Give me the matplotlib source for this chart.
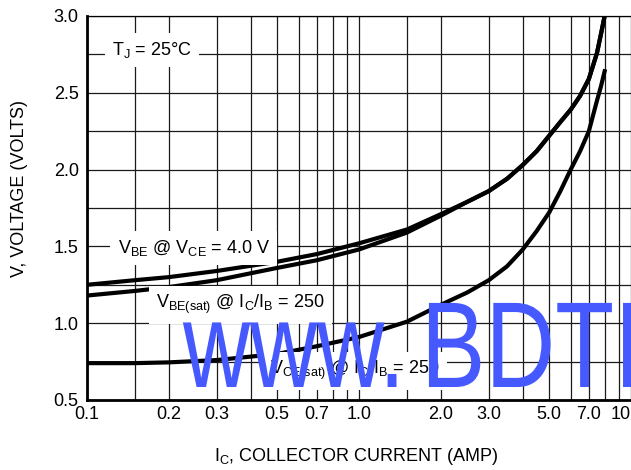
import matplotlib
matplotlib.use('Agg')
import matplotlib.pyplot as plt
from matplotlib import rcParams
from matplotlib import patheffects
from matplotlib.transforms import Affine2D
from matplotlib.ticker import FixedLocator, NullFormatter

# === НАСТРОЙКИ ===
rcParams['font.family'] = ['Liberation Sans', 'DejaVu Sans']
rcParams['font.size'] = 13
rcParams['mathtext.default'] = 'regular'

# === ДАННЫЕ ===
ic = [0.1, 0.15, 0.2, 0.3, 0.5, 0.7, 1.0, 1.5, 2.0, 2.5, 3.0, 3.5, 4.0,
      4.5, 5.0, 5.5, 6.0, 6.5, 7.0, 7.5, 7.75, 8.0]
vbe_on = [1.25, 1.28, 1.30, 1.34, 1.40, 1.45, 1.52, 1.61, 1.71, 1.79, 1.86, 1.94, 2.03,
          2.12, 2.22, 2.31, 2.39, 2.48, 2.59, 2.76, 2.88, 3.0]
vbe_sat = [1.18, 1.21, 1.235, 1.28, 1.36, 1.41, 1.48, 1.59, 1.70, 1.79, 1.86, 1.94, 2.03,
           2.12, 2.22, 2.31, 2.39, 2.48, 2.59, 2.76, 2.88, 3.0]
vce_sat = [0.74, 0.74, 0.745, 0.76, 0.80, 0.85, 0.91, 1.01, 1.12, 1.20, 1.28, 1.37, 1.48,
           1.60, 1.72, 1.86, 2.00, 2.12, 2.25, 2.45, 2.54, 2.64]

x_ticks = [0.1, 0.2, 0.3, 0.5, 0.7, 1.0, 2.0, 3.0, 5.0, 7.0, 10]
x_labels = ['0.1', '0.2', '0.3', '0.5', '0.7', '1.0', '2.0', '3.0', '5.0', '7.0', '10']
x_grid = [0.15, 0.2, 0.3, 0.4, 0.5, 0.6, 0.7, 0.8, 0.9, 1.5, 2, 3, 4, 5, 6, 7, 8, 9]
y_ticks = [0.5, 1.0, 1.5, 2.0, 2.5, 3.0]
y_grid = [0.75, 1.25, 1.75, 2.25, 2.75]


class Squeeze(patheffects.AbstractPathEffect):
    """сжатие текста по горизонтали относительно точки x0 (в пикселях)"""
    def __init__(self, sx, x0):
        super().__init__()
        self.sx = sx
        self.x0 = x0

    def draw_path(self, renderer, gc, tpath, affine, rgbFace=None):
        t = affine + Affine2D().translate(-self.x0, 0).scale(self.sx, 1).translate(self.x0, 0)
        renderer.draw_path(gc, tpath, t, rgbFace)


W, H = 631, 470
fig = plt.figure(figsize=(W / 100, H / 100), dpi=100)
ax = fig.add_axes([87 / W, 70 / H, 544 / W, 384 / H])

ax.set_xscale('log')
ax.set_xlim(0.1, 10)
ax.set_ylim(0.5, 3.0)

ax.xaxis.set_major_locator(FixedLocator(x_ticks))
ax.set_xticklabels(x_labels)
ax.xaxis.set_minor_locator(FixedLocator(x_grid))
ax.xaxis.set_minor_formatter(NullFormatter())
ax.set_yticks(y_ticks)
ax.set_yticklabels([f'{v:.1f}' for v in y_ticks])
ax.yaxis.set_minor_locator(FixedLocator(y_grid))
ax.tick_params(which='both', length=0)
ax.tick_params(axis='x', pad=4)
ax.tick_params(axis='y', pad=6)
ax.get_xticklabels()[-1].set_horizontalalignment('right')

ax.grid(True, which='both', color='#1a1a1a', linewidth=0.9)
ax.set_axisbelow(True)
for s in ['left', 'bottom']:
    ax.spines[s].set_linewidth(2.0)
ax.spines['top'].set_linewidth(0.9)
ax.spines['right'].set_visible(False)

ax.plot(ic, vbe_on, color='black', linewidth=3.0)
ax.plot(ic, vbe_sat, color='black', linewidth=3.0)
ax.plot(ic, vce_sat, color='black', linewidth=3.0)

box = dict(facecolor='white', edgecolor='none', boxstyle='square,pad=0.4')
ax.text(0.173, 2.78, 'T$_J$ = 25°C', ha='center', va='center', bbox=box)
ax.text(0.247, 1.49, 'V$_{BE}$ @ V$_{CE}$ = 4.0 V', ha='center', va='center', bbox=box)
ax.text(0.366, 1.12, 'V$_{BE(sat)}$ @ I$_C$/I$_B$ = 250', ha='center', va='center', bbox=box)
ax.text(0.967, 0.69, 'V$_{CE(sat)}$ @ I$_C$/I$_B$ = 250', ha='center', va='center', bbox=box)

ax.set_xlabel('I$_C$, COLLECTOR CURRENT (AMP)')
ax.xaxis.set_label_coords(0.496, -0.12)
ax.set_ylabel('V, VOLTAGE (VOLTS)')
ax.yaxis.set_label_coords(-0.108, 0.55)

# водяной знак
wm = dict(color='#4659FF', fontsize=88, va='baseline', ha='left', family='Liberation Sans')
fig.text(183 / W, 83 / H, 'www.', path_effects=[Squeeze(0.76, 183)], **wm)
fig.text(421 / W, 83 / H, 'BDTIC', path_effects=[Squeeze(0.79, 421)], **wm)

fig.savefig('out.png', dpi=100)
